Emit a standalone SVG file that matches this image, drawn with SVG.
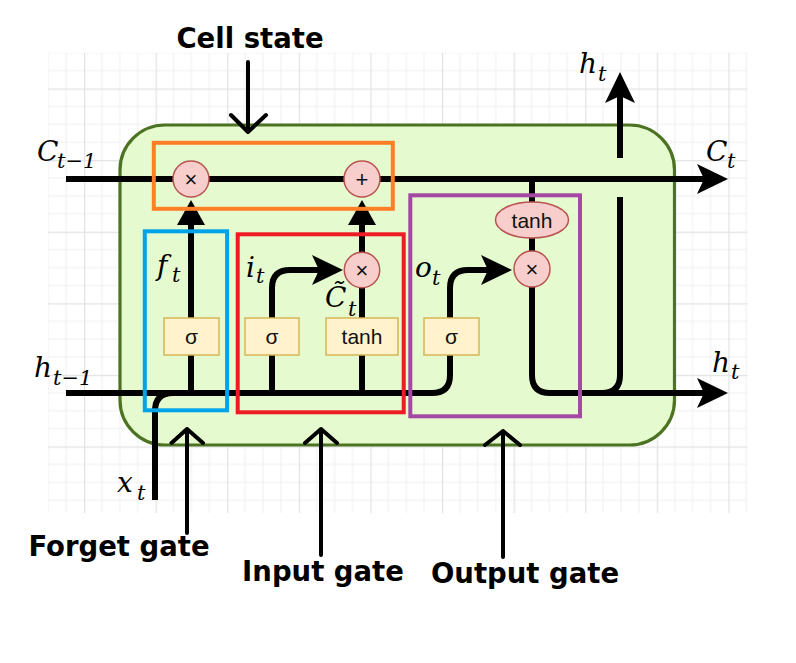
<svg xmlns="http://www.w3.org/2000/svg" width="796" height="663" viewBox="0 0 796 663">
<style>
.minor{stroke:#efefef;stroke-width:1;fill:none}
.major{stroke:#e2e2e2;stroke-width:1.2;fill:none}
.wire{stroke:#000;stroke-width:6;fill:none}
.ann{stroke:#000;stroke-width:4;fill:none;stroke-linecap:round;stroke-linejoin:round}
.op{fill:#f8cecc;stroke:#b85450;stroke-width:1.5}
.act{fill:#fff2cc;stroke:#d6b656;stroke-width:1.5}
.lbl{font-family:"Liberation Sans",Arial,sans-serif;font-size:21px;fill:#111;text-anchor:middle}
.sym{font-family:"Liberation Sans",Arial,sans-serif;font-size:22px;fill:#111;text-anchor:middle}
.m{font-family:"DejaVu Serif",serif;font-style:italic;font-size:28px;fill:#000}
.s{font-family:"DejaVu Serif",serif;font-style:italic;font-size:21px;fill:#000}
.title{font-family:"DejaVu Sans",sans-serif;font-weight:bold;font-size:27.5px;fill:#000;text-anchor:middle}
.box{fill:none;stroke-width:4}
</style>
<defs>
<pattern id="grid" patternUnits="userSpaceOnUse" x="84" y="88.5" width="71.6" height="71.6">
<path class="minor" d="M17.9 0V71.6M35.8 0V71.6M53.7 0V71.6M0 17.9H71.6M0 35.8H71.6M0 53.7H71.6"/>
<path class="major" d="M0.6 0V71.6M0 0.6H71.6"/>
</pattern>
<marker id="big" markerUnits="userSpaceOnUse" viewBox="0 0 31 30" markerWidth="31" markerHeight="30" refX="7" refY="15" orient="auto">
<path d="M0 0L31 15L0 30L7 15Z" fill="#000"/>
</marker>
<marker id="small" markerUnits="userSpaceOnUse" viewBox="0 0 25 28" markerWidth="25" markerHeight="28" refX="1" refY="14" orient="auto">
<path d="M0 0L25 14L0 28Z" fill="#000"/>
</marker>
</defs>
<rect width="796" height="663" fill="#fff"/>
<rect x="48" y="52.7" width="699.5" height="460.3" fill="url(#grid)"/>
<rect id="cell" x="120" y="125" width="554.5" height="320" rx="45" ry="45" fill="#e6fad0" stroke="#4b7321" stroke-width="3.2"/>
<g id="connectors">
<path class="wire" d="M66 179H704" marker-end="url(#big)"/>
<path class="wire" d="M66 393H432Q450 393 450 375V288Q450 270 468 270H488" marker-end="url(#big)"/>
<path class="wire" d="M155 500V411Q155 393 173 393"/>
<path class="wire" d="M191 393V224" marker-end="url(#small)"/>
<path class="wire" d="M272 393V288Q272 270 290 270H319" marker-end="url(#big)"/>
<path class="wire" d="M362 393V224" marker-end="url(#small)"/>
<path class="wire" d="M532 179V210M532 230V258"/>
<path class="wire" d="M532 280V375Q532 393 550 393H704" marker-end="url(#big)"/>
<path class="wire" d="M620 197V375Q620 393 602 393"/>
<path class="wire" d="M620 158V96" marker-end="url(#big)"/>
</g>
<g id="mul_f"><circle class="op" cx="191" cy="179" r="18"/><text class="sym" x="191" y="186.5">×</text></g>
<g id="add_c"><circle class="op" cx="362" cy="179" r="18"/><text class="sym" x="362" y="186.5">+</text></g>
<g id="mul_i"><circle class="op" cx="362" cy="270" r="17.7"/><text class="sym" x="362" y="277.5">×</text></g>
<g id="mul_o"><circle class="op" cx="532" cy="269" r="18"/><text class="sym" x="532" y="276.5">×</text></g>
<g id="tanh_c"><ellipse class="op" cx="532" cy="220" rx="36.5" ry="18"/><text class="lbl" x="532" y="227.5">tanh</text></g>
<g id="sig_f"><rect class="act" x="164" y="318" width="55" height="37"/><text class="lbl" x="191.5" y="343.5">σ</text></g>
<g id="sig_i"><rect class="act" x="245" y="318" width="54" height="37"/><text class="lbl" x="272" y="343.5">σ</text></g>
<g id="tanh_g"><rect class="act" x="326" y="318" width="72" height="37"/><text class="lbl" x="362" y="343.5">tanh</text></g>
<g id="sig_o"><rect class="act" x="424" y="318" width="55" height="37"/><text class="lbl" x="451.5" y="343.5">σ</text></g>
<g id="labels">
<text class="m" x="37" y="161">C</text><text class="s" x="57" y="168">t−1</text>
<text class="m" x="706" y="161">C</text><text class="s" x="727" y="168">t</text>
<text class="m" x="579" y="73">h</text><text class="s" x="598" y="81">t</text>
<text class="m" x="712" y="372">h</text><text class="s" x="731" y="379">t</text>
<text class="m" x="34" y="377">h</text><text class="s" x="53" y="385">t−1</text>
<text class="m" x="117" y="492">x</text><text class="s" x="137" y="500">t</text>
<text class="m" x="157" y="275">f</text><text class="s" x="172" y="282">t</text>
<text class="m" x="246" y="277">i</text><text class="s" x="256" y="283">t</text>
<text class="m" x="415" y="277">o</text><text class="s" x="432" y="285">t</text>
<text class="m" x="325" y="307">C̃</text><text class="s" x="348" y="316">t</text>
</g>
<g id="gates">
<rect class="box" x="153.8" y="142.8" width="239" height="66" stroke="#ff7f27"/>
<rect class="box" x="144.8" y="231.3" width="82.3" height="179" stroke="#00a2e8"/>
<rect class="box" x="237.7" y="234.3" width="166" height="178" stroke="#ed1c24"/>
<rect class="box" x="410.3" y="195.3" width="169.7" height="221" stroke="#a349a4"/>
</g>
<g id="annotations">
<text class="title" x="250" y="48">Cell state</text>
<path class="ann" d="M248 62V132M231 115L248 132L266 115"/>
<text class="title" x="119" y="556">Forget gate</text>
<path class="ann" d="M187 533V429M171.5 443L187 429L203 443"/>
<text class="title" x="323" y="581">Input gate</text>
<path class="ann" d="M321 555V429M305 443L321 429L337 443"/>
<text class="title" x="525" y="583">Output gate</text>
<path class="ann" d="M503 557V431M485 445L503 431L520 445"/>
</g>
</svg>
